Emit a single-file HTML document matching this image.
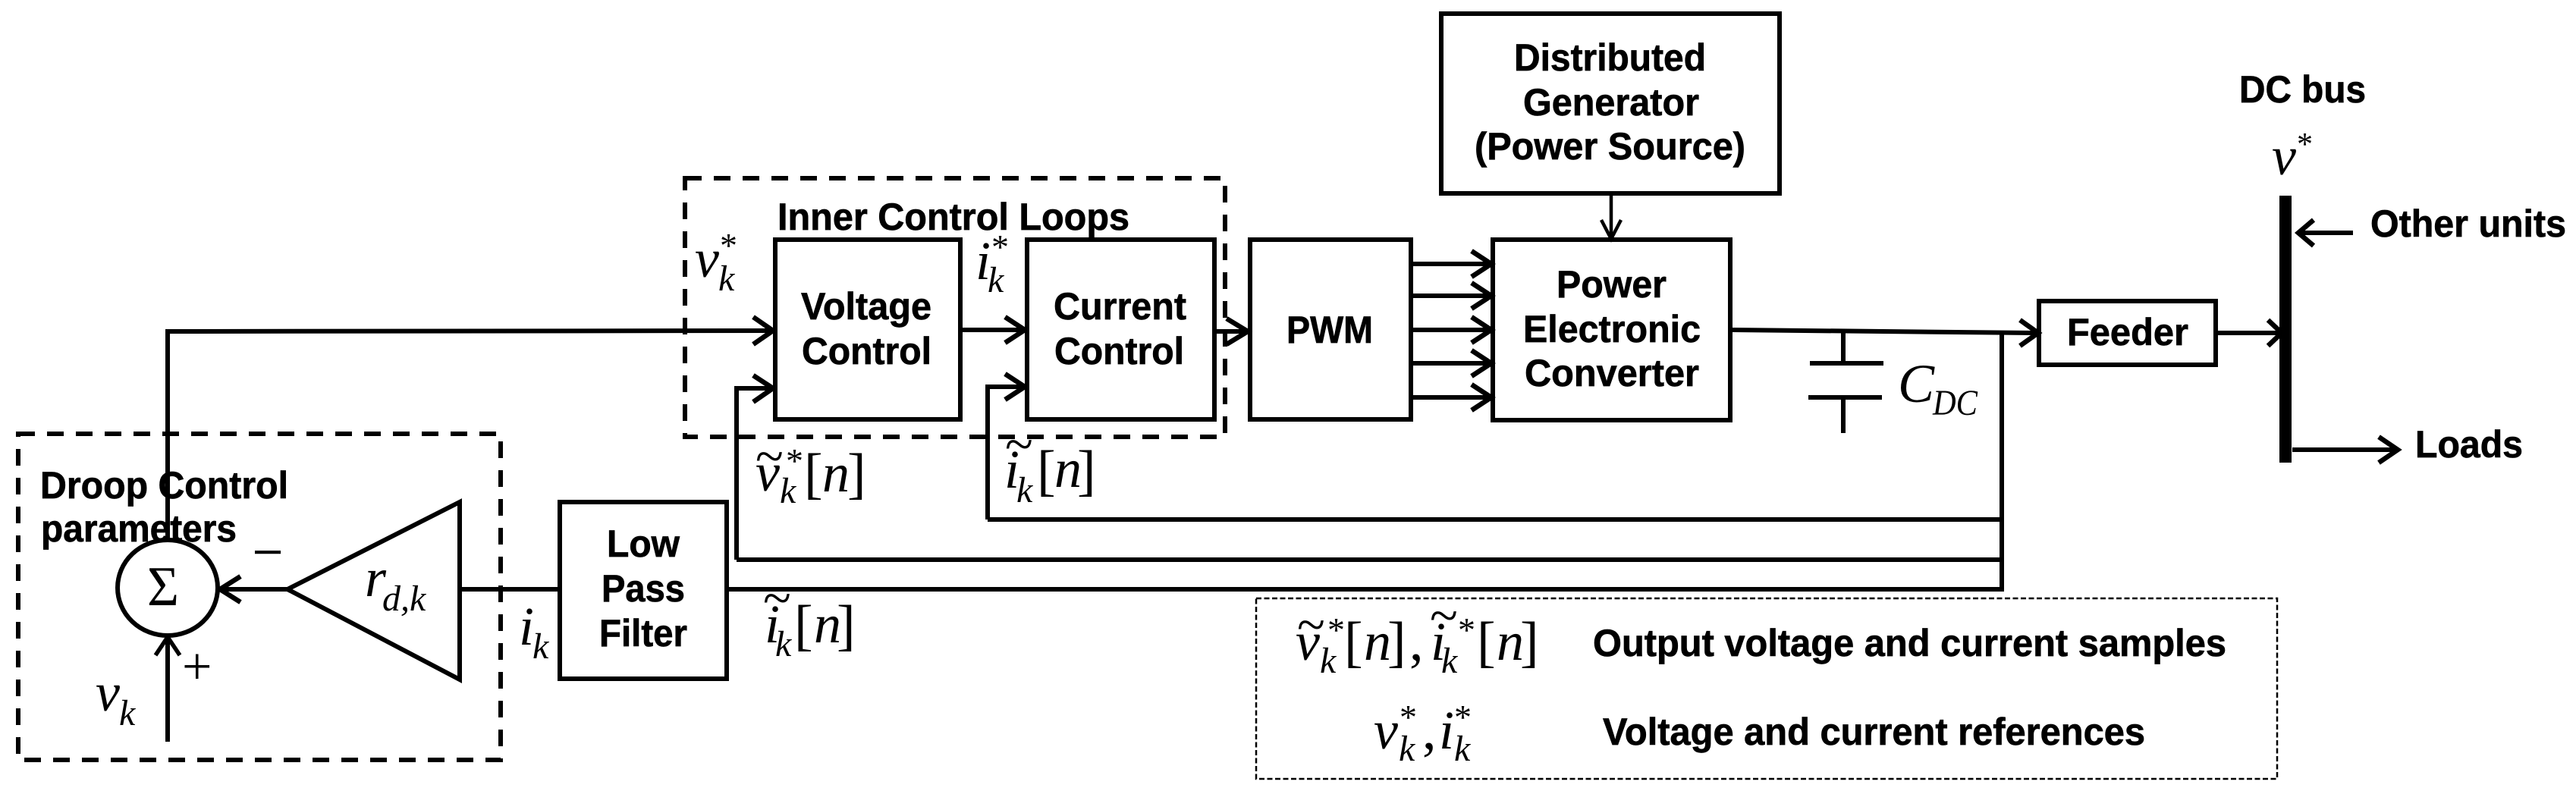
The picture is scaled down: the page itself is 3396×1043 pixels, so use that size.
<!DOCTYPE html>
<html><head><meta charset="utf-8"><style>
html,body{margin:0;padding:0;background:#fff}
svg{display:block}
.b{font-family:"Liberation Sans",Arial,sans-serif;font-weight:700;font-size:50px;fill:#000;stroke:#000;stroke-width:.7px}
.m{font-family:"Liberation Serif","Times New Roman",serif;font-style:italic;font-size:72px;fill:#000}
.s{font-family:"Liberation Serif","Times New Roman",serif;font-style:italic;font-size:48px;fill:#000}
.u{font-family:"Liberation Serif","Times New Roman",serif;font-size:74px;fill:#000}
.a{font-family:"Liberation Serif","Times New Roman",serif;font-size:46px;fill:#000}
</style></head><body>
<svg xmlns="http://www.w3.org/2000/svg" width="3396" height="1043" viewBox="0 0 3396 1043">
<rect width="3396" height="1043" fill="#fff"/>
<!-- dashed groups -->
<g fill="none" stroke="#000" stroke-width="6" stroke-dasharray="22 16">
<rect x="24" y="572" width="636" height="430"/>
<rect x="903" y="235" width="712" height="341"/>
</g>
<rect x="1656" y="789" width="1346" height="238" fill="none" stroke="#000" stroke-width="2.5" stroke-dasharray="7 3.5"/>
<!-- boxes -->
<g fill="none" stroke="#000" stroke-width="6">
<rect x="738" y="662" width="220" height="233"/>
<rect x="1022" y="316" width="244" height="237"/>
<rect x="1354" y="316" width="247" height="237"/>
<rect x="1648" y="316" width="212" height="237"/>
<rect x="1900" y="18" width="446" height="237"/>
<rect x="1968" y="316" width="313" height="238"/>
<rect x="2688" y="397" width="233" height="84"/>
<ellipse cx="221" cy="775" rx="66" ry="63"/>
<path d="M379 777 L606 662 L606 896 Z" stroke-linejoin="miter"/>
</g>
<!-- wires -->
<g fill="none" stroke="#000" stroke-width="6">
<path d="M221 713 L221 437 L1019 436"/>
<path d="M221 978 L221 842"/>
<path d="M379 777 L293 777"/>
<path d="M606 777 L738 777"/>
<path d="M958 777 L2639 777 L2639 437"/>
<path d="M971 738 L2639 738"/>
<path d="M1302 685 L2639 685"/>
<path d="M971 738 L971 512 L1019 512"/>
<path d="M1302 685 L1302 510 L1351 510"/>
<path d="M1266 435 L1350 435"/>
<path d="M1601 437 L1644 437"/>
<path d="M1860 348 L1965 348 M1860 390 L1965 390 M1860 435 L1965 435 M1860 479 L1965 479 M1860 524 L1965 524"/>
<path d="M2281 435 L2684 439"/>
<path d="M2921 439 L3008 439"/>
<path d="M2430 437 L2430 479"/>
<path d="M2386 479 L2483 479"/>
<path d="M2384 524 L2481 524"/>
<path d="M2430 524 L2430 571"/>
<path d="M3102 307 L3030 307"/>
<path d="M3022 593 L3160 593"/>
<path d="M2124 255 L2124 314" stroke-width="4.5"/>
</g>
<!-- arrowheads -->
<g fill="none" stroke="#000" stroke-width="6.5">
<path d="M317 760 L290 777 L317 794"/>
<path d="M205 864 L221 840 L237 864" stroke-width="5.5"/>
<path d="M993 418 L1019 436 L993 454"/>
<path d="M993 495 L1019 512 L993 530"/>
<path d="M1325 418 L1351 435 L1325 452"/>
<path d="M1325 493 L1351 510 L1325 527"/>
<path d="M1617 420 L1645 437 L1617 454"/>
<path d="M1940 331 L1966 348 L1940 365"/>
<path d="M1940 373 L1966 390 L1940 407"/>
<path d="M1940 418 L1966 435 L1940 452"/>
<path d="M1940 462 L1966 479 L1940 496"/>
<path d="M1940 507 L1966 524 L1940 541"/>
<path d="M2663 422 L2687 439 L2663 456"/>
<path d="M2990 422 L3008 439 L2990 456"/>
<path d="M3050 290 L3030 307 L3050 324"/>
<path d="M3136 576 L3161 593 L3136 610"/>
<path d="M2111 290 L2124 315 L2137 290" stroke-width="4.5"/>
</g>
<!-- bus -->
<rect x="3005" y="258" width="16" height="352" fill="#000"/>
<!-- bold text -->
<g class="b">
<text class="b" x="53" y="657" textLength="327" lengthAdjust="spacingAndGlyphs">Droop Control</text>
<text class="b" x="54" y="714" textLength="258" lengthAdjust="spacingAndGlyphs">parameters</text>
<text class="b" x="800" y="734" textLength="96" lengthAdjust="spacingAndGlyphs">Low</text>
<text class="b" x="793" y="793" textLength="110" lengthAdjust="spacingAndGlyphs">Pass</text>
<text class="b" x="790" y="852" textLength="116" lengthAdjust="spacingAndGlyphs">Filter</text>
<text class="b" x="1025" y="303" textLength="464" lengthAdjust="spacingAndGlyphs">Inner Control Loops</text>
<text class="b" x="1056" y="421" textLength="172" lengthAdjust="spacingAndGlyphs">Voltage</text>
<text class="b" x="1057" y="480" textLength="171" lengthAdjust="spacingAndGlyphs">Control</text>
<text class="b" x="1389" y="421" textLength="175" lengthAdjust="spacingAndGlyphs">Current</text>
<text class="b" x="1390" y="480" textLength="171" lengthAdjust="spacingAndGlyphs">Control</text>
<text class="b" x="1696" y="452" textLength="114" lengthAdjust="spacingAndGlyphs">PWM</text>
<text class="b" x="1996" y="93" textLength="253" lengthAdjust="spacingAndGlyphs">Distributed</text>
<text class="b" x="2008" y="152" textLength="232" lengthAdjust="spacingAndGlyphs">Generator</text>
<text class="b" x="1944" y="210" textLength="357" lengthAdjust="spacingAndGlyphs">(Power Source)</text>
<text class="b" x="2052" y="392" textLength="145" lengthAdjust="spacingAndGlyphs">Power</text>
<text class="b" x="2008" y="451" textLength="234" lengthAdjust="spacingAndGlyphs">Electronic</text>
<text class="b" x="2010" y="509" textLength="230" lengthAdjust="spacingAndGlyphs">Converter</text>
<text class="b" x="2725" y="455" textLength="160" lengthAdjust="spacingAndGlyphs">Feeder</text>
<text class="b" x="2952" y="135" textLength="167" lengthAdjust="spacingAndGlyphs">DC bus</text>
<text class="b" x="3125" y="312" textLength="258" lengthAdjust="spacingAndGlyphs">Other units</text>
<text class="b" x="3184" y="603" textLength="142" lengthAdjust="spacingAndGlyphs">Loads</text>
<text class="b" x="2100" y="865" textLength="835" lengthAdjust="spacingAndGlyphs">Output voltage and current samples</text>
<text class="b" x="2113" y="982" textLength="715" lengthAdjust="spacingAndGlyphs">Voltage and current references</text>
</g>
<!-- math -->
<text class="u" x="194" y="798" textLength="42" lengthAdjust="spacingAndGlyphs">Σ</text>
<text class="u" x="333" y="750" style="font-size:66px;stroke:#000;stroke-width:1px" textLength="40" lengthAdjust="spacingAndGlyphs">−</text>
<text class="u" x="240" y="902" style="font-size:70px">+</text>
<!-- v_k -->
<text class="m" x="126" y="937">v</text><text class="s" x="157" y="956">k</text>
<!-- r_d,k -->
<text class="m" x="481" y="786">r</text><text class="s" x="504" y="805">d,k</text>
<!-- i_k -->
<text class="m" x="684" y="850">i</text><text class="s" x="702" y="868">k</text>
<!-- v_k* -->
<text class="m" x="916" y="365">v</text><text class="s" x="947" y="383">k</text><text class="a" x="949" y="339">*</text>
<!-- i_k* -->
<text class="m" x="1286" y="368">i</text><text class="s" x="1302" y="385">k</text><text class="a" x="1307" y="341">*</text>
<!-- tilde v_k*[n] -->
<text class="m" x="996" y="647">v</text><text class="u" x="996" y="624" style="font-size:68px">~</text><text class="s" x="1028" y="663">k</text><text class="a" x="1036" y="623">*</text><text class="u" x="1060" y="649">[</text><text class="m" x="1084" y="648">n</text><text class="u" x="1117" y="649">]</text>
<!-- tilde i_k[n] -->
<text class="m" x="1324" y="643">i</text><text class="u" x="1325" y="608" style="font-size:68px">~</text><text class="s" x="1340" y="662">k</text><text class="u" x="1367" y="645">[</text><text class="m" x="1390" y="642">n</text><text class="u" x="1420" y="645">]</text>
<!-- tilde i_k[n] lower -->
<text class="m" x="1008" y="847">i</text><text class="u" x="1006" y="811" style="font-size:68px">~</text><text class="s" x="1022" y="865">k</text><text class="u" x="1047" y="849">[</text><text class="m" x="1073" y="847">n</text><text class="u" x="1103" y="849">]</text>
<!-- C_DC -->
<text class="m" x="2502" y="530">C</text><text class="s" x="2548" y="547" textLength="59" lengthAdjust="spacingAndGlyphs">DC</text>
<!-- v* -->
<text class="m" x="2995" y="230">v</text><text class="a" x="3028" y="204" style="font-size:42px">*</text>
<!-- legend row 1 -->
<text class="m" x="1708" y="870">v</text><text class="u" x="1710" y="846" style="font-size:68px">~</text><text class="s" x="1740" y="887">k</text><text class="a" x="1750" y="846">*</text><text class="u" x="1772" y="871">[</text><text class="m" x="1798" y="870">n</text><text class="u" x="1829" y="871">]</text><text class="u" x="1858" y="870">,</text>
<text class="m" x="1886" y="870">i</text><text class="u" x="1885" y="834" style="font-size:68px">~</text><text class="s" x="1900" y="887">k</text><text class="a" x="1922" y="846">*</text><text class="u" x="1947" y="871">[</text><text class="m" x="1973" y="870">n</text><text class="u" x="2004" y="871">]</text>
<!-- legend row 2 -->
<text class="m" x="1811" y="987">v</text><text class="s" x="1844" y="1003">k</text><text class="a" x="1845" y="961">*</text><text class="u" x="1875" y="987">,</text>
<text class="m" x="1897" y="987">i</text><text class="s" x="1917" y="1003">k</text><text class="a" x="1917" y="961">*</text>
</svg>
</body></html>
